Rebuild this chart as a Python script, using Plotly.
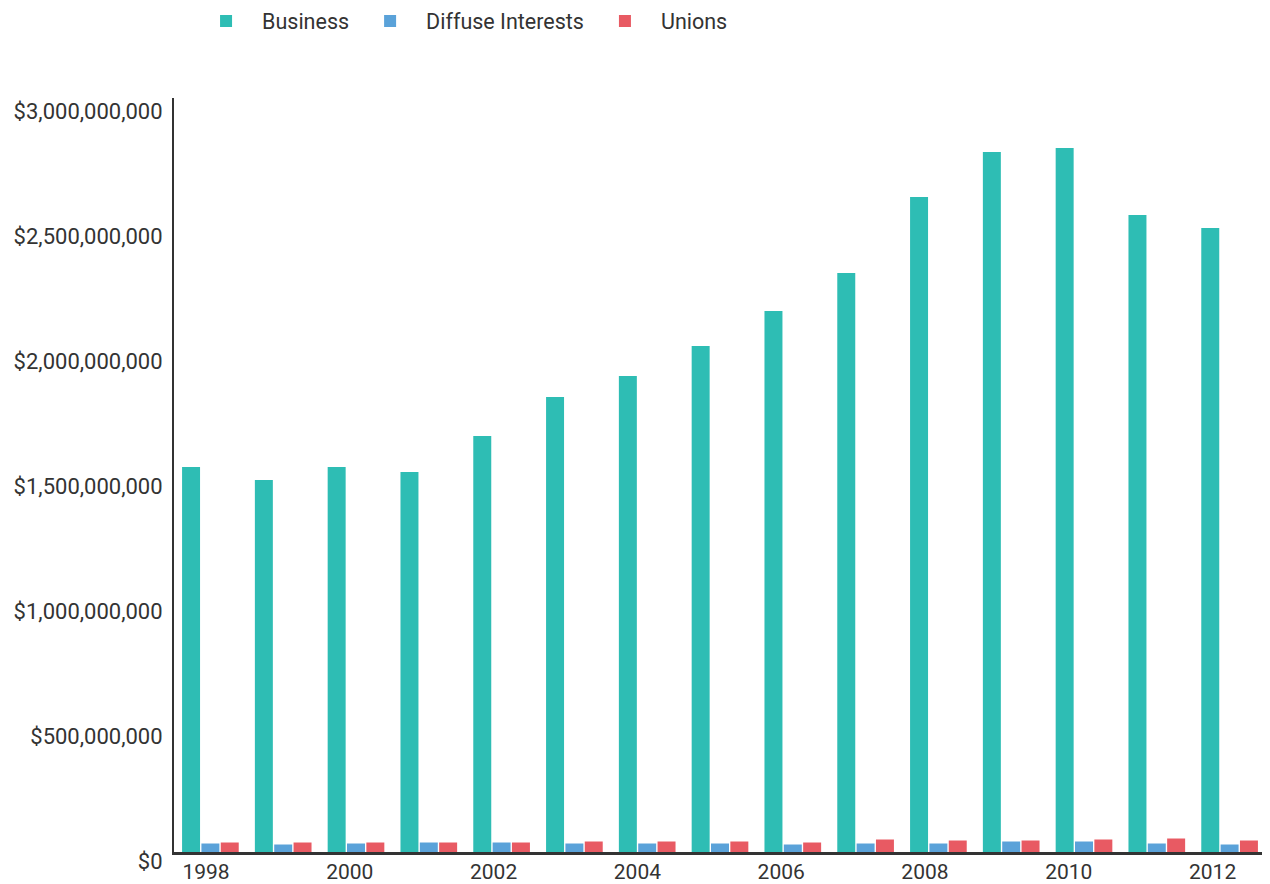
import plotly.graph_objects as go

years = list(range(1998, 2013))
business = [1.54e9, 1.488e9, 1.54e9, 1.52e9, 1.664e9, 1.82e9, 1.904e9, 2.024e9,
            2.164e9, 2.316e9, 2.62e9, 2.80e9, 2.816e9, 2.548e9, 2.496e9]
diffuse = [34e6, 30e6, 34e6, 38e6, 38e6, 34e6, 34e6, 34e6,
           30e6, 34e6, 34e6, 42e6, 42e6, 34e6, 30e6]
unions = [38e6, 38e6, 38e6, 38e6, 38e6, 42e6, 42e6, 42e6,
          38e6, 50e6, 46e6, 46e6, 50e6, 54e6, 46e6]
series_names = ["Business", "Diffuse Interests", "Unions"]
colors = ["#2ebdb4", "#5aa2d9", "#e85a63"]
y_tickvals = [0, 0.5e9, 1e9, 1.5e9, 2e9, 2.5e9, 3e9]
y_ticktext = ["$0", "$500,000,000", "$1,000,000,000", "$1,500,000,000",
              "$2,000,000,000", "$2,500,000,000", "$3,000,000,000"]
x_tickvals = [1998, 2000, 2002, 2004, 2006, 2008, 2010, 2012]

fig = go.Figure()
for name, vals, col in zip(series_names, [business, diffuse, unions], colors):
    fig.add_trace(go.Bar(x=[str(y) for y in years], y=vals, name=name,
                         marker=dict(color=col, line=dict(width=0))))

# helper (invisible) trace carrying the year tick axis
fig.add_trace(go.Scatter(x=years, y=[0] * len(years), xaxis="x2", yaxis="y",
                         mode="markers", marker=dict(opacity=0),
                         showlegend=False, hoverinfo="skip"))

font_family = "Roboto, 'Noto Sans', sans-serif"
fig.update_layout(
    width=1262, height=876,
    margin=dict(l=166, r=4, t=90, b=32, autoexpand=False),
    paper_bgcolor="white", plot_bgcolor="white",
    barmode="group", bargap=0.203, bargroupgap=0.07,
    font=dict(family=font_family, size=22, color="#333333"),
    showlegend=True,
    legend=dict(orientation="h", x=0.0147, xanchor="left", y=1.102, yanchor="middle",
                yref="paper", itemwidth=62,
                font=dict(size=21.5, color="#333333"), traceorder="normal"),
    xaxis=dict(type="category", showticklabels=False, showgrid=False,
               showline=True, linecolor="#333333", linewidth=3, ticks="",
               zeroline=False, fixedrange=True),
    xaxis2=dict(type="linear", overlaying="x", anchor="y", side="bottom",
                range=[1997.555, 2012.743], tickvals=x_tickvals,
                ticktext=[str(v) for v in x_tickvals],
                showgrid=False, showline=False, zeroline=False, ticks="",
                ticklabelstandoff=5,
                tickfont=dict(size=21, color="#333333")),
    yaxis=dict(range=[0, 3.016e9], tickvals=y_tickvals, ticktext=y_ticktext,
               showgrid=False, zeroline=False, showline=True,
               linecolor="#333333", linewidth=2, ticks="",
               ticklabelshift=9, ticklabelstandoff=5,
               tickfont=dict(size=22, color="#333333")),
)

fig.write_html("out.html")
